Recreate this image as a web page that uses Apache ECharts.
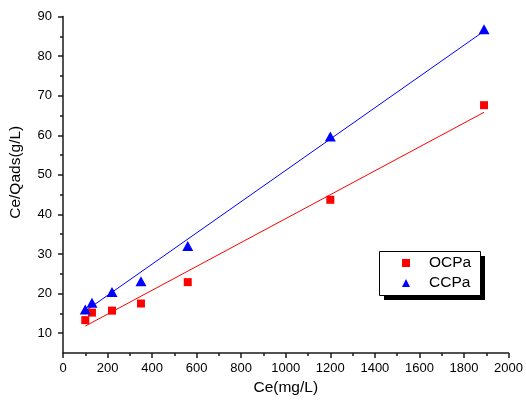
<!DOCTYPE html>
<html>
<head>
<meta charset="utf-8">
<script src="https://cdn.jsdelivr.net/npm/echarts@6/dist/echarts.min.js"></script>
<style>html,body{margin:0;padding:0;background:#fff;}#c{width:526px;height:401px;}</style>
</head>
<body>
<div id="c"></div>
<script>
// Data
const ceValues = [100, 130, 220, 350, 560, 1200, 1890];
const ocpaValues = [13.3, 15.2, 15.7, 17.5, 22.9, 43.7, 67.6];
const ccpaValues = [16.0, 17.7, 20.4, 23.1, 32.0, 59.7, 86.8];
const fitX = [100, 1890];
const ocpaFit = [11.8, 65.8];
const ccpaFit = [15.6, 86.3];
const yMajorTicks = [10, 20, 30, 40, 50, 60, 70, 80, 90];
const yMinorTicks = [15, 25, 35, 45, 55, 65, 75, 85];
const seriesNames = ['OCPa', 'CCPa'];

const FONT = 'Liberation Sans, Arial, sans-serif';
const AX = '#1a1a1a';
const pair = (xs, ys) => xs.map((x, i) => [x, ys[i]]);

const chart = echarts.init(document.getElementById('c'));
chart.setOption({
  animation: false,
  backgroundColor: '#fff',
  textStyle: { fontFamily: FONT, color: '#000' },
  grid: { left: 62, right: 15, top: 16.5, bottom: 47.5, containLabel: false },
  graphic: [
    { type: 'rect', z: 2, left: 384, top: 256, shape: { width: 101, height: 44 }, style: { fill: '#000' }, silent: true },
    { type: 'rect', z: 3, left: 379, top: 251, shape: { width: 101, height: 44 }, style: { fill: '#fff', stroke: '#000', lineWidth: 1 }, silent: true }
  ],
  xAxis: {
    type: 'value', min: 0, max: 2000, interval: 200,
    name: 'Ce(mg/L)', nameLocation: 'middle', nameGap: 27,
    nameTextStyle: { fontSize: 15.5, fontFamily: FONT, color: '#000' },
    axisLine: { show: true, lineStyle: { color: AX, width: 1.5 } },
    axisTick: { show: true, length: 5, lineStyle: { color: AX, width: 1.5 } },
    minorTick: { show: true, splitNumber: 2, length: 3, lineStyle: { color: AX, width: 1.5 } },
    axisLabel: { fontSize: 13, margin: 9, color: '#000', fontFamily: FONT, formatter: v => String(v) },
    splitLine: { show: false }
  },
  yAxis: [{
    type: 'value', min: 5, max: 90, interval: 5,
    name: 'Ce/Qads(g/L)', nameLocation: 'middle', nameGap: 39, nameRotate: 90,
    nameTextStyle: { fontSize: 15.5, fontFamily: FONT, color: '#000', padding: [0, 0, 0, 25] },
    axisLine: { show: true, lineStyle: { color: AX, width: 1.5 } },
    axisTick: { show: true, length: 5, customValues: yMajorTicks, lineStyle: { color: AX, width: 1.5 } },
    axisLabel: { fontSize: 13, margin: 11, color: '#000', fontFamily: FONT, customValues: yMajorTicks, formatter: v => String(v) },
    splitLine: { show: false }
  }, {
    type: 'value', min: 5, max: 90, interval: 5, position: 'left',
    axisLine: { show: false },
    axisTick: { show: true, length: 3, customValues: yMinorTicks, lineStyle: { color: AX, width: 1.5 } },
    axisLabel: { show: false },
    splitLine: { show: false }
  }],
  legend: {
    data: seriesNames,
    orient: 'vertical',
    left: 379, top: 251,
    padding: [3, 9, 3, 23],
    itemGap: 2,
    itemWidth: 8, itemHeight: 8,
    z: 10,
    textStyle: { fontSize: 15.5, fontFamily: FONT, color: '#000', padding: [0, 0, 0, 14], lineHeight: 18 }
  },
  series: [
    {
      name: 'OCPa-fit', type: 'line', data: pair(fitX, ocpaFit), showSymbol: false, symbol: 'none',
      lineStyle: { color: '#ff0000', width: 1 }, silent: true, z: 1
    },
    {
      name: 'CCPa-fit', type: 'line', data: pair(fitX, ccpaFit), showSymbol: false, symbol: 'none',
      lineStyle: { color: '#0000ff', width: 1 }, silent: true, z: 1
    },
    {
      name: 'OCPa', type: 'scatter', data: pair(ceValues, ocpaValues),
      symbol: 'rect', symbolSize: 8, itemStyle: { color: '#ff0000', opacity: 1 }, z: 3
    },
    {
      name: 'CCPa', type: 'scatter', data: pair(ceValues, ccpaValues),
      symbol: 'triangle', symbolSize: [11, 10], itemStyle: { color: '#0000ff', opacity: 1 }, z: 3
    }
  ]
});
</script>
</body>
</html>
